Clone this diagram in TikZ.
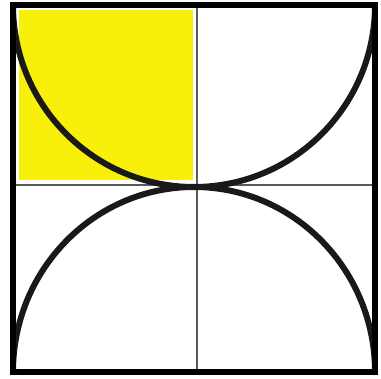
\documentclass[tikz,border=0pt]{standalone}
\definecolor{quadyellow}{RGB}{248,240,10}
\definecolor{thingray}{RGB}{90,90,90}
\tikzset{
  frame/.style={line width=6*0.02cm, black},
  arcline/.style={line width=6*0.02cm, black!90},
  axis/.style={line width=2.5*0.02cm, thingray},
}
\begin{document}
\begin{tikzpicture}[x=0.02cm,y=0.02cm]
\useasboundingbox (0,0) rectangle (381,378);
\fill[white] (0,0) rectangle (381,378);
% yellow quadrant
\fill[quadyellow] (19,198) rectangle (193,368);
% thin dividing lines
\coordinate (vt) at (197,373);
\coordinate (vb) at (197,6);
\coordinate (hl) at (13,193);
\coordinate (hr) at (375,193);
\draw[axis] (vt) -- (vb);
\draw[axis] (hl) -- (hr);
% arcs
\begin{scope}
\clip (13,6) rectangle (375,373);
\draw[arcline] (13,373) arc[start angle=180, end angle=360, x radius=181, y radius=182];
\draw[arcline] (13,6) arc[start angle=180, end angle=0, x radius=181, y radius=185];
\end{scope}
% frame
\draw[frame] (13,6) rectangle (375,373);
\end{tikzpicture}
\end{document}
